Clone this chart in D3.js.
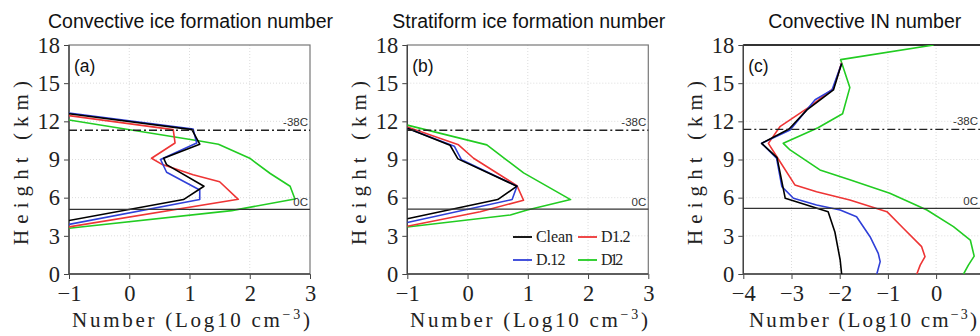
<!DOCTYPE html>
<html><head><meta charset="utf-8">
<script src="https://cdn.jsdelivr.net/npm/d3@7"></script>
<style>body{margin:0;background:#fff;} svg{display:block;}</style>
</head><body>
<svg id="chart" width="980" height="336"></svg>
<script>
// ---- data ----
const seriesNames = ["Clean", "D.12", "D1.2", "D12"];
const seriesColors = ["#000000", "#3040d8", "#ee3535", "#22cc22"];
const panelTitles = ["Convective ice formation number", "Stratiform ice formation number", "Convective IN number"];
const panelTags = ["(a)", "(b)", "(c)"];
const xTicksAB = [-1, 0, 1, 2, 3];
const xTicksC = [-4, -3, -2, -1, 0];
const yTicks = [0, 3, 6, 9, 12, 15, 18];
const levels0C = [5.08, 5.1, 5.16];
const levels38C = [11.3, 11.3, 11.37];

// [log10 number, height km]
const aClean = [[-1,12.6],[1.04,11.35],[1.17,10.2],[0.57,9.1],[0.62,8.6],[1.24,6.9],[0.9,5.85],[-1,4.2]];
const aD012 = [[-1,12.65],[1.06,11.4],[1.12,10.3],[0.52,9.0],[0.62,8.0],[1.17,6.6],[1.17,5.85],[-1,3.9]];
const aD12x = [[-1,12.45],[0.73,11.35],[0.76,10.3],[0.37,9.1],[0.55,8.6],[1.06,7.8],[1.5,7.25],[1.81,5.87],[-1,3.7]];
const aD12 = [[-1,12.1],[1.17,10.45],[1.48,10.2],[2.0,9.1],[2.34,7.9],[2.67,6.9],[2.75,5.9],[1.7,4.98],[-1,3.6]];

const bClean = [[-1,11.45],[-0.29,10.12],[-0.16,9.05],[0.82,6.9],[0.5,5.85],[-1,4.35]];
const bD012 = [[-1,11.45],[-0.22,10.05],[-0.1,8.98],[0.82,6.9],[0.74,5.85],[-1,4.05]];
const bD12x = [[-1,11.55],[-0.15,10.15],[0.1,9.1],[0.82,6.95],[0.93,5.8],[0.21,4.9],[-1,3.75]];
const bD12 = [[-1,11.7],[0.32,10.15],[0.65,8.95],[0.93,7.95],[1.71,5.85],[0.99,5.03],[0.71,4.64],[-1,3.7]];

const cClean = [[-1.96,16.55],[-2.13,14.47],[-2.68,12.9],[-3.05,11.4],[-3.62,10.27],[-3.3,9.15],[-3.13,5.95],[-2.24,4.9],[-2.1,3.3],[-1.99,1.1],[-1.96,0]];
const cD012 = [[-1.96,16.55],[-2.16,14.47],[-2.51,13.7],[-3.03,11.32],[-3.62,10.27],[-3.31,9.1],[-3.2,6.87],[-2.96,5.95],[-2.48,5.42],[-1.99,5.03],[-1.65,4.5],[-1.37,2.93],[-1.2,1.62],[-1.16,0.97],[-1.23,0]];
const cD12x = [[-1.96,16.6],[-2.13,14.6],[-2.62,13.15],[-3.24,11.58],[-3.48,10.27],[-3.3,9.2],[-2.93,7.0],[-2.48,6.47],[-1.79,5.82],[-1.02,4.9],[-0.68,3.6],[-0.3,2.15],[-0.23,1.36],[-0.33,0.7],[-0.4,0]];
const cD12 = [[-0.05,18],[-1.98,16.85],[-1.79,14.65],[-1.94,12.6],[-2.45,11.5],[-3.17,10.27],[-3.03,9.75],[-2.41,8.18],[-1.79,7.4],[-0.96,6.34],[-0.19,5.03],[0.36,3.72],[0.71,2.67],[0.79,1.4],[0.67,0.7],[0.57,0]];

const panelData = [
  [aClean, aD012, aD12x, aD12],
  [bClean, bD012, bD12x, bD12],
  [cClean, cD012, cD12x, cD12]
];
const panelXDomains = [[-1, 3], [-1, 3], [-4, 1]];
const panelXTicks = [xTicksAB, xTicksAB, xTicksC];

// ---- layout ----
const svg = d3.select("#chart");
const plotLeft = [69, 407.3, 743.3];
const pw = 241, plotTop = 45, plotBottom = 274;
const xLabelStart = [72, 410, 749];
const xLabelLen = [238, 238, 228];
const serif = "'Liberation Serif','Times New Roman',serif";
const sans = "'Liberation Sans',Arial,sans-serif";
const fmt = d => d < 0 ? "\u2212" + Math.abs(d) : String(d);

panelData.forEach((series, p) => {
  const L = plotLeft[p];
  const R = L + pw;
  const x = d3.scaleLinear().domain(panelXDomains[p]).range([L, R]);
  const y = d3.scaleLinear().domain([0, 18]).range([plotBottom, plotTop]);
  const g = svg.append("g");
  const clipId = "clip" + p;
  svg.append("clipPath").attr("id", clipId).append("rect")
    .attr("x", L).attr("y", plotTop).attr("width", pw).attr("height", plotBottom - plotTop);

  // grid
  g.append("g").selectAll("line").data(panelXTicks[p].slice(1).filter(v => x(v) < R - 1)).join("line")
    .attr("x1", d => x(d)).attr("x2", d => x(d)).attr("y1", plotTop).attr("y2", plotBottom)
    .attr("stroke", "#dcdcdc").attr("stroke-dasharray", "1,2");
  g.append("g").selectAll("line").data(yTicks.slice(1, -1)).join("line")
    .attr("x1", L).attr("x2", R).attr("y1", d => y(d)).attr("y2", d => y(d))
    .attr("stroke", "#dcdcdc").attr("stroke-dasharray", "1,2");

  // axes
  const xa = g.append("g").attr("transform", `translate(0,${plotBottom})`)
    .call(d3.axisBottom(x).tickValues(panelXTicks[p]).tickSize(5).tickPadding(6).tickFormat(fmt));
  const ya = g.append("g").attr("transform", `translate(${L},0)`)
    .call(d3.axisLeft(y).tickValues(yTicks).tickSize(5).tickPadding(4).tickFormat(fmt));
  [xa, ya].forEach(a => {
    a.select(".domain").remove();
    a.selectAll(".tick line").attr("stroke", "#444");
    a.selectAll(".tick text").attr("font-family", serif).attr("font-size", 22.5).attr("fill", "#222");
  });

  // frame
  g.append("rect").attr("x", L).attr("y", plotTop).attr("width", pw).attr("height", plotBottom - plotTop)
    .attr("fill", "none").attr("stroke", "#777").attr("stroke-width", 1.2);
  g.append("path").attr("d", `M${L},${plotTop}V${plotBottom}H${R}`)
    .attr("fill", "none").attr("stroke", "#444").attr("stroke-width", 1.4);
  if (p === 2) {
    g.append("line").attr("x1", L).attr("x2", R).attr("y1", plotTop).attr("y2", plotTop)
      .attr("stroke", "#333").attr("stroke-width", 1.8);
  }

  // lines
  const line = d3.line().x(d => x(d[0])).y(d => y(d[1]));
  const order = [3, 2, 1, 0];
  order.forEach(i => {
    g.append("path").datum(series[i]).attr("d", line).attr("fill", "none")
      .attr("stroke", seriesColors[i]).attr("stroke-width", 1.6).attr("stroke-linejoin", "round")
      .attr("clip-path", `url(#${clipId})`);
  });

  // reference levels
  g.append("line").attr("x1", L).attr("x2", R)
    .attr("y1", y(levels0C[p])).attr("y2", y(levels0C[p])).attr("stroke", "#333").attr("stroke-width", 1.3);
  g.append("line").attr("x1", L).attr("x2", R)
    .attr("y1", y(levels38C[p])).attr("y2", y(levels38C[p])).attr("stroke", "#222").attr("stroke-width", 1.3)
    .attr("stroke-dasharray", "8,3,2,3");
  const labX = Math.min(R - 2, 978);
  g.append("text").attr("x", labX).attr("y", y(levels38C[p]) - 4)
    .attr("text-anchor", "end").attr("font-family", sans).attr("font-size", 11.5).attr("fill", "#333").text("-38C");
  g.append("text").attr("x", labX).attr("y", y(levels0C[p]) - 3)
    .attr("text-anchor", "end").attr("font-family", sans).attr("font-size", 11.5).attr("fill", "#333").text("0C");

  // tag
  g.append("text").attr("x", L + 5).attr("y", plotTop + 27).attr("font-family", sans)
    .attr("font-size", 17.5).attr("fill", "#111").text(panelTags[p]);

  // title
  g.append("text").attr("x", L + pw / 2 + 1).attr("y", 28).attr("text-anchor", "middle")
    .attr("font-family", sans).attr("font-size", 19.5).attr("fill", "#111").text(panelTitles[p]);

  // x label
  const xl = g.append("text").attr("x", xLabelStart[p]).attr("y", 327)
    .attr("font-family", serif).attr("font-size", 21).attr("fill", "#222")
    .attr("textLength", xLabelLen[p]).attr("lengthAdjust", "spacing");
  xl.append("tspan").text("Number (Log10 cm");
  xl.append("tspan").attr("dy", -8).attr("font-size", 14).text("\u22123");
  xl.append("tspan").attr("dy", 8).text(")");

  // y label
  g.append("text").attr("transform", `translate(${L - 41},163) rotate(-90)`)
    .attr("text-anchor", "middle").attr("font-family", serif).attr("font-size", 21).attr("fill", "#222")
    .attr("textLength", 164).attr("lengthAdjust", "spacing").text("Height (km)");

  // legend in panel b
  if (p === 1) {
    const lg = g.append("g");
    const cols = [513, 578];
    const rows = [237, 260];
    seriesNames.forEach((nm, i) => {
      const cx = cols[i === 0 || i === 1 ? 0 : 1];
      const cy = rows[i === 0 || i === 2 ? 0 : 1];
      lg.append("line").attr("x1", cx).attr("x2", cx + 19).attr("y1", cy).attr("y2", cy)
        .attr("stroke", seriesColors[i]).attr("stroke-width", 1.8);
      lg.append("text").attr("x", cx + 23).attr("y", cy + 5).attr("font-family", serif)
        .attr("font-size", 16).attr("fill", "#222")
        .attr("textLength", nm.length * 7.4).attr("lengthAdjust", "spacing").text(nm);
    });
  }
});
</script>
</body></html>
